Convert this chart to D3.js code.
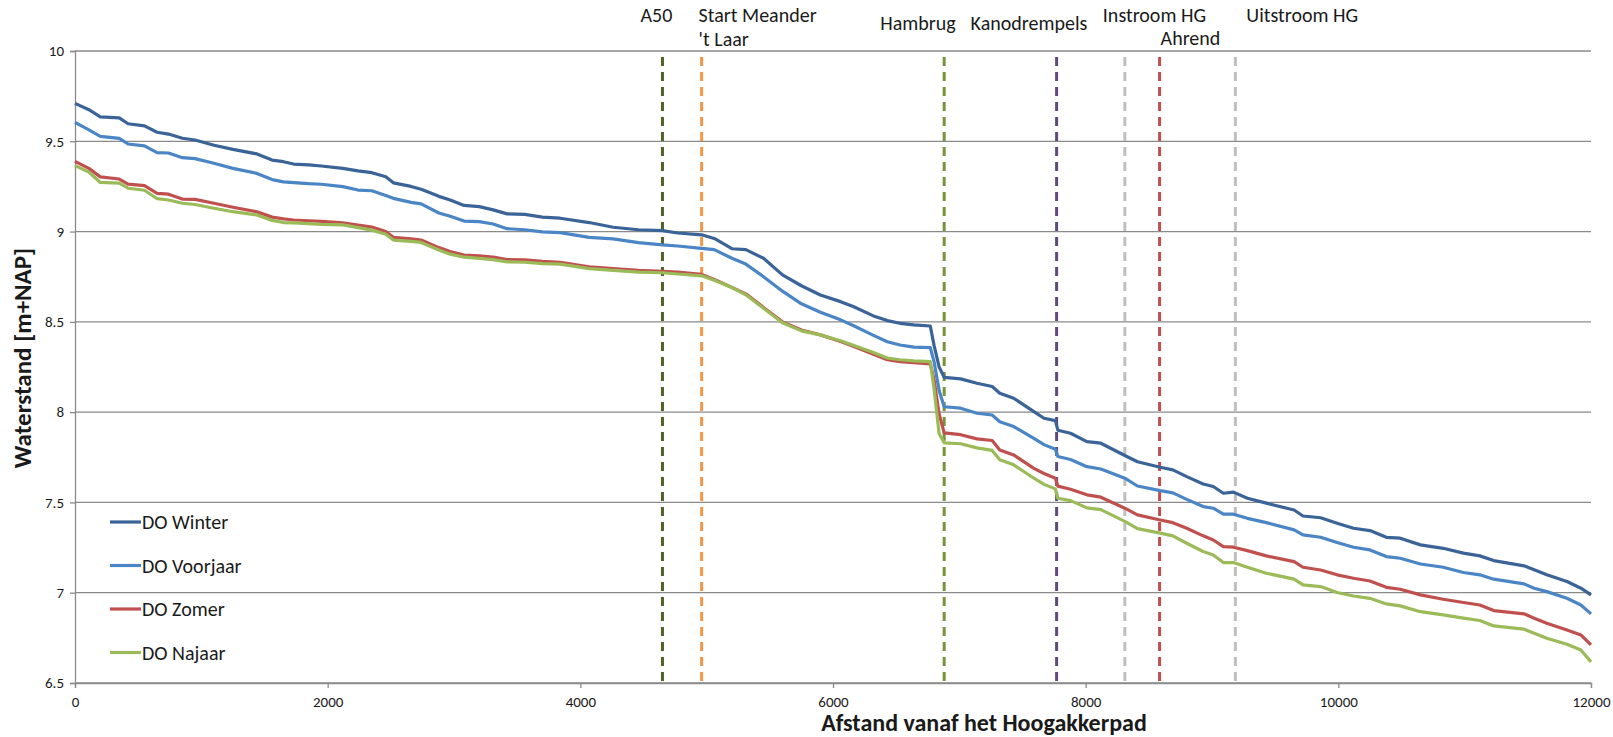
<!DOCTYPE html>
<html>
<head>
<meta charset="utf-8">
<script src="https://cdn.jsdelivr.net/npm/d3@7"></script>
<style>
  html, body { margin: 0; padding: 0; background: #ffffff; }
  svg { display: block; }
  text { font-family: Carlito, Calibri, Lato, "Open Sans", sans-serif; fill: #1a1a1a; }
</style>
</head>
<body>
<svg id="chart" width="1613" height="737"></svg>
<script>
// Afstand vanaf het Hoogakkerpad [m]
const afstand = [
  0, 110, 200, 350, 420, 550, 650, 740, 850, 950,
  1100, 1250, 1440, 1560, 1650, 1730, 1850, 1950, 2120, 2240,
  2350, 2460, 2520, 2660, 2740, 2880, 2970, 3080, 3200, 3310,
  3420, 3560, 3700, 3840, 4070, 4260, 4460, 4650, 4770, 4960,
  5060, 5200, 5310, 5450, 5600, 5750, 5900, 6060, 6160, 6320,
  6430, 6530, 6640, 6770, 6800, 6840, 6880, 7010, 7140, 7260,
  7320, 7430, 7590, 7670, 7760, 7780, 7880, 8010, 8120, 8310,
  8410, 8590, 8690, 8800, 8930, 9010, 9090, 9170, 9280, 9430,
  9650, 9720, 9860, 9990, 10120, 10250, 10380, 10490, 10650, 10830,
  10990, 11120, 11230, 11470, 11550, 11650, 11810, 11920, 12000
];

// Waterstand [m+NAP] per seizoen
const doWinter = [
  9.710, 9.675, 9.635, 9.630, 9.597, 9.585, 9.550, 9.540, 9.517, 9.507,
  9.478, 9.455, 9.430, 9.396, 9.387, 9.374, 9.369, 9.363, 9.350, 9.336,
  9.326, 9.304, 9.270, 9.250, 9.234, 9.195, 9.175, 9.145, 9.138, 9.120,
  9.098, 9.095, 9.080, 9.074, 9.050, 9.024, 9.010, 9.005, 8.992, 8.982,
  8.962, 8.905, 8.900, 8.852, 8.760, 8.700, 8.649, 8.612, 8.585, 8.533,
  8.507, 8.492, 8.483, 8.477, 8.370, 8.250, 8.193, 8.184, 8.160, 8.142,
  8.105, 8.077, 8.003, 7.966, 7.953, 7.900, 7.883, 7.837, 7.828, 7.760,
  7.725, 7.695, 7.680, 7.643, 7.602, 7.588, 7.551, 7.557, 7.523, 7.496,
  7.458, 7.425, 7.415, 7.385, 7.357, 7.344, 7.307, 7.302, 7.265, 7.246,
  7.219, 7.204, 7.178, 7.149, 7.127, 7.099, 7.062, 7.025, 6.988
];
const doVoorjaar = [
  9.605, 9.563, 9.527, 9.516, 9.485, 9.475, 9.437, 9.435, 9.409, 9.404,
  9.378, 9.350, 9.322, 9.288, 9.275, 9.271, 9.265, 9.262, 9.249, 9.230,
  9.226, 9.200, 9.184, 9.162, 9.153, 9.103, 9.085, 9.058, 9.055, 9.042,
  9.016, 9.010, 8.998, 8.994, 8.968, 8.960, 8.939, 8.926, 8.920, 8.907,
  8.900, 8.852, 8.820, 8.750, 8.670, 8.600, 8.553, 8.511, 8.480, 8.425,
  8.390, 8.372, 8.360, 8.357, 8.280, 8.120, 8.030, 8.022, 7.994, 7.984,
  7.947, 7.920, 7.855, 7.820, 7.794, 7.754, 7.738, 7.698, 7.685, 7.634,
  7.591, 7.565, 7.553, 7.517, 7.477, 7.468, 7.435, 7.435, 7.412, 7.388,
  7.348, 7.320, 7.307, 7.278, 7.252, 7.237, 7.200, 7.191, 7.159, 7.141,
  7.112, 7.099, 7.075, 7.049, 7.025, 7.006, 6.969, 6.932, 6.883
];
const doZomer = [
  9.389, 9.350, 9.303, 9.291, 9.263, 9.254, 9.212, 9.207, 9.180, 9.178,
  9.157, 9.135, 9.110, 9.080, 9.070, 9.064, 9.060, 9.057, 9.049, 9.036,
  9.025, 9.000, 8.968, 8.960, 8.953, 8.911, 8.890, 8.870, 8.865, 8.859,
  8.845, 8.843, 8.835, 8.830, 8.805, 8.795, 8.785, 8.780, 8.775, 8.763,
  8.735, 8.690, 8.655, 8.580, 8.500, 8.455, 8.428, 8.391, 8.365, 8.320,
  8.290, 8.280, 8.274, 8.267, 8.180, 7.990, 7.885, 7.875, 7.852, 7.843,
  7.791, 7.763, 7.689, 7.660, 7.634, 7.590, 7.573, 7.542, 7.529, 7.468,
  7.431, 7.403, 7.388, 7.357, 7.315, 7.292, 7.255, 7.252, 7.233, 7.204,
  7.172, 7.141, 7.126, 7.099, 7.080, 7.065, 7.030, 7.019, 6.988, 6.964,
  6.946, 6.932, 6.901, 6.883, 6.859, 6.831, 6.794, 6.766, 6.711
];
const doNajaar = [
  9.365, 9.330, 9.272, 9.268, 9.240, 9.229, 9.182, 9.175, 9.157, 9.150,
  9.129, 9.110, 9.092, 9.062, 9.050, 9.048, 9.044, 9.040, 9.037, 9.022,
  9.008, 8.985, 8.953, 8.946, 8.940, 8.898, 8.875, 8.858, 8.852, 8.845,
  8.832, 8.830, 8.823, 8.820, 8.795, 8.785, 8.775, 8.772, 8.765, 8.755,
  8.730, 8.690, 8.650, 8.575, 8.495, 8.450, 8.428, 8.395, 8.370, 8.330,
  8.300, 8.290, 8.284, 8.280, 8.130, 7.880, 7.830, 7.825, 7.802, 7.788,
  7.736, 7.708, 7.634, 7.600, 7.575, 7.523, 7.510, 7.470, 7.460, 7.395,
  7.355, 7.330, 7.315, 7.274, 7.228, 7.209, 7.167, 7.167, 7.141, 7.108,
  7.075, 7.043, 7.034, 7.001, 6.982, 6.969, 6.938, 6.927, 6.895, 6.877,
  6.859, 6.846, 6.816, 6.798, 6.776, 6.748, 6.715, 6.683, 6.617
];

const seriesNames = ["DO Winter", "DO Voorjaar", "DO Zomer", "DO Najaar"];

// Kunstwerken en locaties langs het traject [m]
const markerNames = ["A50", "Start Meander", "Hambrug", "Kanodrempels", "Instroom HG", "Ahrend", "Uitstroom HG"];
const markerAfstand = [4650, 4960, 6880, 7770, 8310, 8585, 9185];

const xTicks = [0, 2000, 4000, 6000, 8000, 10000, 12000];
const yTicks = [6.5, 7, 7.5, 8, 8.5, 9, 9.5, 10];

// ---- layout and styling ----
const W = 1613, H = 737;
const margin = { top: 51, right: 22, bottom: 54, left: 75 };
const seriesColors = ["#3A6398", "#4A85C6", "#C0504D", "#9BBB59"];
const markerColors = ["#4F6228", "#F79646", "#77933C", "#604A7B", "#BFBFBF", "#C0504D", "#BFBFBF"];
// label placement for the markers: offset from the line, baseline, optional second line
const markerLabelLayout = [
  { dx: -22, y: 22 },
  { dx: -3, y: 22, second: "'t Laar", y2: 46 },
  { dx: -64, y: 30 },
  { dx: -86, y: 30 },
  { dx: -22, y: 22 },
  { dx: 1, y: 45 },
  { dx: 11, y: 22 }
];
const gridColor = "#8A8A8A";
const labelFont = "Carlito, Calibri, Lato, sans-serif";

const svg = d3.select("#chart");
const x = d3.scaleLinear().domain([0, 12000]).range([margin.left, W - margin.right]);
const y = d3.scaleLinear().domain([6.5, 10]).range([H - margin.bottom, margin.top]);

// horizontal gridlines
svg.append("g")
  .selectAll("line")
  .data(yTicks)
  .join("line")
  .attr("x1", margin.left)
  .attr("x2", W - margin.right)
  .attr("y1", d => y(d))
  .attr("y2", d => y(d))
  .attr("stroke", gridColor)
  .attr("stroke-width", 1.3);

// y axis
const yAxis = svg.append("g")
  .attr("transform", `translate(${margin.left},0)`)
  .call(d3.axisLeft(y).tickValues(yTicks).tickSize(5).tickPadding(6).tickFormat(d3.format("")));
yAxis.select(".domain").attr("stroke", gridColor).attr("stroke-width", 1.3);
yAxis.selectAll(".tick line").attr("stroke", gridColor).attr("stroke-width", 1.3);
yAxis.selectAll(".tick text").attr("font-size", 15).attr("fill", "#1a1a1a")
  .style("font-family", labelFont);

// x axis
const xAxis = svg.append("g")
  .attr("transform", `translate(0,${H - margin.bottom})`)
  .call(d3.axisBottom(x).tickValues(xTicks).tickSize(5).tickPadding(8).tickFormat(d3.format("d")));
xAxis.select(".domain").attr("stroke", gridColor).attr("stroke-width", 1.3);
xAxis.selectAll(".tick line").attr("stroke", gridColor).attr("stroke-width", 1.3);
xAxis.selectAll(".tick text").attr("font-size", 15).attr("fill", "#1a1a1a")
  .style("font-family", labelFont);

// vertical dashed marker lines
svg.append("g")
  .selectAll("line")
  .data(markerAfstand)
  .join("line")
  .attr("x1", d => x(d))
  .attr("x2", d => x(d))
  .attr("y1", margin.top + 6)
  .attr("y2", H - margin.bottom)
  .attr("stroke", (d, i) => markerColors[i])
  .attr("stroke-width", 3)
  .attr("stroke-dasharray", "9,6");

// marker labels
const labels = svg.append("g").attr("font-size", 20);
markerNames.forEach((name, i) => {
  const L = markerLabelLayout[i];
  labels.append("text")
    .attr("x", x(markerAfstand[i]) + L.dx)
    .attr("y", L.y)
    .text(name);
  if (L.second) {
    labels.append("text")
      .attr("x", x(markerAfstand[i]) + L.dx)
      .attr("y", L.y2)
      .text(L.second);
  }
});

// water level lines
const allSeries = [doWinter, doVoorjaar, doZomer, doNajaar];
const line = d3.line()
  .x((d, i) => x(afstand[i]))
  .y(d => y(d));

svg.append("g")
  .selectAll("path")
  .data(allSeries)
  .join("path")
  .attr("fill", "none")
  .attr("stroke", (d, i) => seriesColors[i])
  .attr("stroke-width", 3.2)
  .attr("stroke-linejoin", "round")
  .attr("d", line);

// legend
const legendY = [522, 565.5, 609, 652.5];
const legend = svg.append("g");
seriesNames.forEach((name, i) => {
  legend.append("line")
    .attr("x1", 110).attr("x2", 141)
    .attr("y1", legendY[i]).attr("y2", legendY[i])
    .attr("stroke", seriesColors[i])
    .attr("stroke-width", 3.2);
  legend.append("text")
    .attr("x", 142)
    .attr("y", legendY[i])
    .attr("dy", "0.35em")
    .attr("font-size", 20)
    .text(name);
});

// axis titles
svg.append("text")
  .attr("transform", `translate(22,${358}) rotate(-90)`)
  .attr("text-anchor", "middle")
  .attr("dy", "0.35em")
  .attr("font-size", 25)
  .attr("font-weight", "bold")
  .text("Waterstand [m+NAP]");

svg.append("text")
  .attr("x", 984)
  .attr("y", 731)
  .attr("text-anchor", "middle")
  .attr("font-size", 24)
  .attr("font-weight", "bold")
  .text("Afstand vanaf het Hoogakkerpad");
</script>
</body>
</html>
